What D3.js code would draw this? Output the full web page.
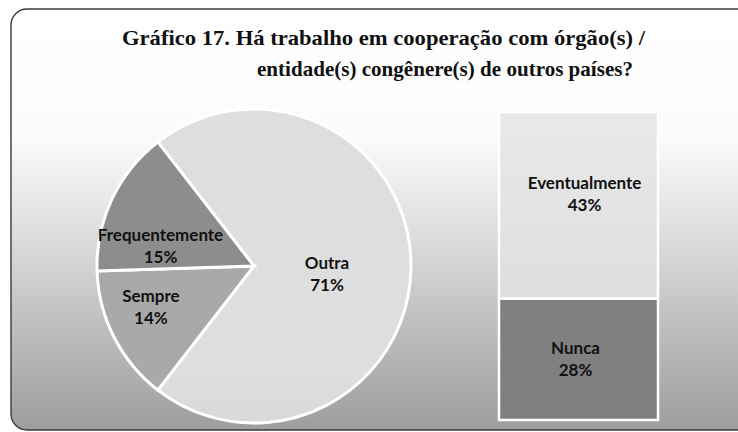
<!DOCTYPE html>
<html>
<head>
<meta charset="utf-8">
<script src="https://cdn.jsdelivr.net/npm/d3@7"></script>
<style>
  html, body { margin: 0; padding: 0; background: #fff; }
  svg { display: block; }
  .title text { font-family: "Liberation Serif", "Times New Roman", Times, Tinos, "Noto Serif", "DejaVu Serif", FreeSerif, serif; font-weight: bold; font-size: 22px; }
  .lbl text { font-family: Lato, "Open Sans", sans-serif; font-weight: bold; font-size: 17px; }
</style>
</head>
<body>
<svg id="chart" width="738" height="432"></svg>
<script>
// Pie part: main categories plus the combined "Outra" slice
const pieCategories = ["Outra", "Sempre", "Frequentemente"];
const pieValues = [71, 14, 15];
// Bar part: breakdown of "Outra"
const barCategories = ["Nunca", "Eventualmente"];
const barValues = [28, 43];
const titleLines = [
  "Gráfico 17. Há trabalho em cooperação com órgão(s) /",
  "entidade(s) congênere(s) de outros países?"
];

const pieColors = { "Outra": "url(#gOutra)", "Sempre": "#a9a9a9", "Frequentemente": "#8d8d8d" };
const barColors = { "Nunca": "#808080", "Eventualmente": "url(#gEvent)" };

const svg = d3.select("#chart");
const defs = svg.append("defs");

const bg = defs.append("linearGradient").attr("id", "gBg")
  .attr("x1", 0).attr("y1", 0).attr("x2", 0).attr("y2", 1);
[[0, "#ffffff"], [0.3, "#fbfbfb"], [0.5, "#e2e2e2"], [0.72, "#c3c3c3"], [1, "#9e9e9e"]]
  .forEach(([o, c]) => bg.append("stop").attr("offset", o).attr("stop-color", c));

const go = defs.append("linearGradient").attr("id", "gOutra")
  .attr("gradientUnits", "userSpaceOnUse").attr("x1", 0).attr("y1", 108).attr("x2", 0).attr("y2", 424);
[[0, "#dedede"], [1, "#bebebe"]]
  .forEach(([o, c]) => go.append("stop").attr("offset", o).attr("stop-color", c));

const ge = defs.append("linearGradient").attr("id", "gEvent")
  .attr("x1", 0).attr("y1", 0).attr("x2", 0).attr("y2", 1);
[[0, "#e9e9e9"], [1, "#dedede"]]
  .forEach(([o, c]) => ge.append("stop").attr("offset", o).attr("stop-color", c));

// Chart area frame
svg.append("rect")
  .attr("x", 11).attr("y", 9).attr("width", 760).attr("height", 421)
  .attr("rx", 16).attr("ry", 16)
  .attr("fill", "url(#gBg)")
  .attr("stroke", "#3a3a3a").attr("stroke-width", 1.4);

// Title
const title = svg.append("g").attr("class", "title").attr("fill", "#111");
title.append("text").attr("x", 122).attr("y", 45)
  .attr("textLength", 523).attr("lengthAdjust", "spacingAndGlyphs").text(titleLines[0]);
title.append("text").attr("x", 257).attr("y", 76)
  .attr("textLength", 376).attr("lengthAdjust", "spacingAndGlyphs").text(titleLines[1]);

// Pie
const cx = 254, cy = 266, r = 157;
const pieTotal = d3.sum(pieValues);
const outraShare = pieValues[0] / pieTotal;
// Combined slice centred on the right, facing the bar
const start = Math.PI / 2 - outraShare * Math.PI;
const pie = d3.pie().sort(null).value(d => d.value)
  .startAngle(start).endAngle(start + 2 * Math.PI);
const pieData = pie(pieCategories.map((c, i) => ({ cat: c, value: pieValues[i] })));
const arc = d3.arc().innerRadius(0).outerRadius(r);

const gPie = svg.append("g").attr("transform", `translate(${cx},${cy})`);
gPie.selectAll("path").data(pieData).join("path")
  .attr("d", arc)
  .attr("fill", d => pieColors[d.data.cat])
  .attr("stroke", "#ffffff").attr("stroke-width", 3).attr("stroke-linejoin", "miter");

// Label anchors: arc centroid nudged per slice
const labelArc = d3.arc().innerRadius(0).outerRadius(200);
const labelNudge = { "Outra": [-27, 8], "Sempre": [-14, -4], "Frequentemente": [-3, 23] };
const pieLabels = gPie.selectAll("g.lbl").data(pieData).join("g")
  .attr("class", "lbl")
  .attr("transform", d => {
    const [x, y] = labelArc.centroid(d);
    const n = labelNudge[d.data.cat];
    return `translate(${x + n[0]},${y + n[1]})`;
  })
  .attr("text-anchor", "middle").attr("fill", "#111");
pieLabels.append("text").attr("y", -5).text(d => d.data.cat);
pieLabels.append("text").attr("y", 17).text(d => Math.round(d.data.value / pieTotal * 100) + "%");

// Stacked bar for the "Outra" breakdown
const barTotal = d3.sum(barValues);
const y = d3.scaleLinear().domain([0, barTotal]).range([420, 112]);
const barX = 499, barW = 159;
const stack = d3.stack().keys(barCategories)([Object.fromEntries(barCategories.map((c, i) => [c, barValues[i]]))]);
const gBar = svg.append("g");
gBar.selectAll("rect").data(stack).join("rect")
  .attr("x", barX).attr("width", barW)
  .attr("y", d => y(d[0][1])).attr("height", d => y(d[0][0]) - y(d[0][1]))
  .attr("fill", d => barColors[d.key])
  .attr("stroke", "#ffffff").attr("stroke-width", 2.5);

const barLabelOffset = { "Nunca": [-3, 0], "Eventualmente": [6, -11] };
const barLabels = gBar.selectAll("g.lbl").data(stack).join("g")
  .attr("class", "lbl")
  .attr("transform", d => {
    const o = barLabelOffset[d.key];
    return `translate(${barX + barW / 2 + o[0]},${(y(d[0][0]) + y(d[0][1])) / 2 + o[1]})`;
  })
  .attr("text-anchor", "middle").attr("fill", "#111");
barLabels.append("text").attr("y", -5).text(d => d.key);
barLabels.append("text").attr("y", 17)
  .text(d => Math.round(barValues[barCategories.indexOf(d.key)] / pieTotal * 100) + "%");
</script>
</body>
</html>
